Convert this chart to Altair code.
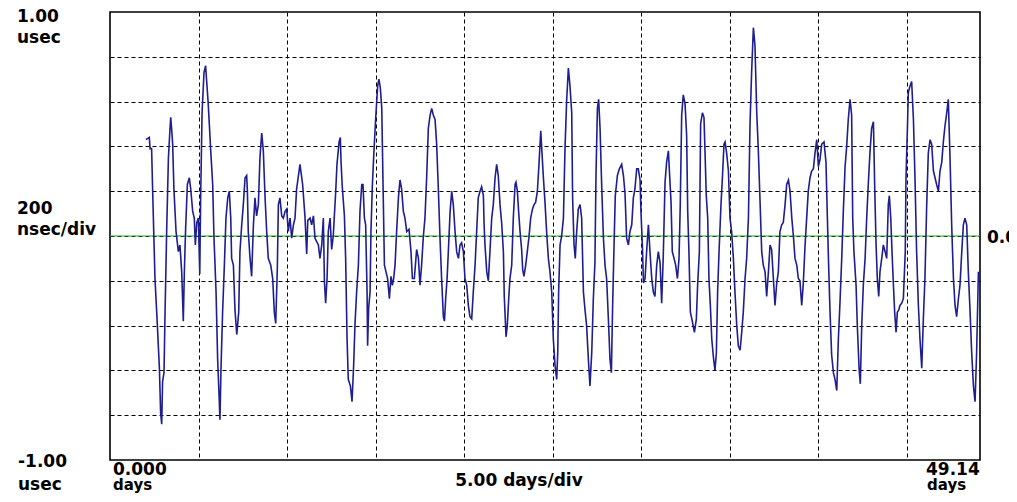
import altair as alt
import pandas as pd

# time (days) and phase offset (usec)
t1 = [2.03, 2.22, 2.26, 2.35, 2.41, 2.49, 2.54, 2.67, 2.79, 2.86, 2.92, 2.97, 3.05, 3.11, 3.20, 3.30, 3.39, 3.43,
      3.48, 3.54, 3.61, 3.73, 3.86, 3.95, 4.05, 4.14, 4.20, 4.27, 4.37, 4.48, 4.56, 4.67, 4.76, 4.82, 4.90, 4.99,
      5.07, 5.12, 5.20, 5.31, 5.40, 5.54, 5.61, 5.69, 5.80, 5.87, 5.99, 6.08, 6.16, 6.21, 6.27, 6.36, 6.46, 6.55,
      6.65, 6.74, 6.82, 6.87, 6.97, 7.06, 7.16, 7.27, 7.34, 7.44, 7.53, 7.63, 7.72, 7.76, 7.81, 7.91, 8.00, 8.10,
      8.19, 8.28, 8.38, 8.47, 8.57, 8.66, 8.76, 8.85, 8.94, 9.08, 9.19, 9.28, 9.36, 9.45, 9.51, 9.60, 9.70, 9.79,
      9.89, 9.98, 10.07, 10.17, 10.26, 10.36, 10.45, 10.54, 10.73, 10.88, 11.01]
v1 = [0.43, 0.44, 0.39, 0.39, 0.20, -0.04, -0.19, -0.39, -0.59, -0.79, -0.84, -0.65, -0.61, -0.34, 0.02, 0.35, 0.48, 0.53,
      0.48, 0.41, 0.21, 0.02, -0.07, -0.04, -0.16, -0.38, -0.16, 0.03, 0.23, 0.26, 0.21, 0.11, 0.08, -0.04, 0.06, 0.08,
      -0.17, 0.17, 0.55, 0.73, 0.76, 0.60, 0.50, 0.38, 0.23, 0.00, -0.25, -0.55, -0.71, -0.82, -0.59, -0.34, -0.13, 0.08,
      0.17, 0.20, 0.08, -0.10, -0.13, -0.33, -0.44, -0.34, -0.07, 0.05, 0.14, 0.26, 0.27, 0.20, 0.02, -0.10, -0.18, 0.05,
      0.17, 0.09, 0.14, 0.35, 0.46, 0.38, 0.17, 0.02, -0.10, -0.13, -0.19, -0.34, -0.39, -0.15, 0.14, 0.17, 0.09, 0.08,
      0.11, 0.12, 0.02, 0.08, -0.01, 0.05, 0.08, 0.21, 0.32, 0.23, 0.09]

t2 = [11.11, 11.17, 11.30, 11.39, 11.49, 11.58, 11.77, 11.86, 11.96, 12.05, 12.11, 12.18, 12.26, 12.33, 12.43, 12.52,
      12.61, 12.75, 12.82, 12.94, 13.01, 13.05, 13.12, 13.24, 13.31, 13.39, 13.46, 13.58, 13.67, 13.76, 13.84, 13.93,
      14.03, 14.12, 14.22, 14.29, 14.37, 14.44, 14.52, 14.55, 14.61, 14.69, 14.74, 14.82, 14.91, 15.01, 15.12, 15.19,
      15.27, 15.35, 15.42, 15.50, 15.59, 15.68, 15.78, 15.87, 15.95, 16.02, 16.10, 16.19, 16.29, 16.38, 16.47, 16.57,
      16.66, 16.76, 16.89, 17.00, 17.08, 17.19, 17.32, 17.42, 17.51, 17.60, 17.70, 17.79, 17.89, 17.98, 18.08, 18.17,
      18.26, 18.36, 18.45, 18.55, 18.64, 18.73, 18.83, 18.89, 18.96, 19.04, 19.11, 19.21, 19.30, 19.39, 19.49, 19.58,
      19.68, 19.77, 19.86, 19.96, 20.05, 20.15, 20.24, 20.33, 20.43]
v2 = [-0.08, 0.07, 0.08, 0.05, 0.09, -0.01, -0.04, -0.10, -0.04, 0.08, -0.20, -0.30, -0.19, 0.02, 0.08, -0.06,
      0.00, 0.20, 0.32, 0.42, 0.44, 0.33, 0.22, 0.09, -0.10, -0.46, -0.64, -0.67, -0.74, -0.58, -0.39, -0.25,
      -0.13, 0.11, 0.23, 0.23, 0.08, 0.05, -0.25, -0.49, -0.32, -0.25, 0.02, 0.23, 0.38, 0.53, 0.67, 0.70,
      0.66, 0.57, 0.24, -0.13, -0.16, -0.19, -0.28, -0.18, -0.22, -0.19, -0.13, 0.02, 0.17, 0.25, 0.21, 0.11,
      0.08, 0.02, 0.03, -0.07, -0.19, -0.19, -0.06, -0.10, -0.22, -0.13, 0.00, 0.08, 0.27, 0.48, 0.54, 0.57,
      0.54, 0.52, 0.41, 0.20, -0.01, -0.19, -0.36, -0.38, -0.28, -0.19, -0.07, 0.11, 0.20, 0.14, 0.02, -0.07,
      -0.10, -0.04, -0.03, -0.07, -0.19, -0.22, -0.31, -0.36, -0.37]

t3 = [20.52, 20.62, 20.71, 20.80, 20.90, 20.99, 21.09, 21.13, 21.18, 21.28, 21.37, 21.46, 21.56, 21.65, 21.75, 21.84,
      21.93, 22.03, 22.12, 22.22, 22.27, 22.37, 22.44, 22.52, 22.59, 22.69, 22.78, 22.88, 22.93, 23.01, 23.08, 23.16,
      23.25, 23.31, 23.38, 23.48, 23.57, 23.67, 23.76, 23.86, 23.95, 24.04, 24.14, 24.23, 24.33, 24.40, 24.48, 24.57,
      24.66, 24.76, 24.85, 24.95, 25.04, 25.14, 25.23, 25.29, 25.34, 25.42, 25.51, 25.61, 25.70, 25.79, 25.89, 25.98,
      26.08, 26.13, 26.21, 26.28, 26.36, 26.45, 26.55, 26.64, 26.74, 26.83, 26.92, 27.02, 27.11, 27.21, 27.30, 27.39,
      27.45, 27.53, 27.60, 27.68, 27.77, 27.87, 27.96, 28.05, 28.15, 28.24, 28.32, 28.39, 28.47, 28.54, 28.66, 28.77,
      28.90, 29.00, 29.09, 29.18, 29.28, 29.37, 29.47, 29.56, 29.65, 29.75]
v3 = [-0.25, -0.13, 0.02, 0.17, 0.20, 0.22, 0.18, 0.05, -0.04, -0.16, -0.20, -0.07, 0.08, 0.14, 0.26, 0.32,
      0.27, 0.14, 0.06, -0.07, -0.27, -0.45, -0.40, -0.28, -0.19, -0.13, 0.08, 0.23, 0.24, 0.20, 0.11, 0.02,
      -0.06, -0.15, -0.18, -0.13, -0.07, 0.00, 0.08, 0.12, 0.14, 0.15, 0.20, 0.32, 0.47, 0.37, 0.26, 0.15,
      0.02, -0.10, -0.16, -0.25, -0.46, -0.58, -0.64, -0.52, -0.25, -0.04, 0.00, 0.08, 0.39, 0.60, 0.75, 0.67,
      0.55, 0.17, -0.04, -0.10, 0.02, 0.12, 0.14, 0.08, -0.25, -0.33, -0.40, -0.55, -0.67, -0.52, -0.28, -0.12,
      0.27, 0.57, 0.61, 0.48, 0.23, -0.01, -0.13, -0.19, -0.37, -0.55, -0.61, -0.31, -0.04, 0.18, 0.27, 0.30,
      0.32, 0.27, 0.19, -0.01, -0.04, 0.02, 0.05, 0.17, 0.21, 0.30]

t4 = [29.84, 29.94, 29.99, 30.07, 30.13, 30.22, 30.31, 30.41, 30.50, 30.60, 30.69, 30.78, 30.88, 30.97, 31.07, 31.16,
      31.25, 31.35, 31.44, 31.54, 31.61, 31.69, 31.76, 31.86, 31.95, 32.05, 32.14, 32.21, 32.29, 32.38, 32.48, 32.57,
      32.63, 32.70, 32.78, 32.89, 33.01, 33.12, 33.19, 33.29, 33.36, 33.46, 33.55, 33.61, 33.68, 33.76, 33.83, 33.91,
      33.99, 34.08, 34.17, 34.25, 34.32, 34.40, 34.51, 34.59, 34.68, 34.74, 34.83, 34.93, 35.02, 35.11, 35.21, 35.30,
      35.40, 35.49, 35.59, 35.68, 35.77, 35.87, 35.96, 36.06, 36.15, 36.24, 36.34, 36.43, 36.53, 36.62, 36.71, 36.81,
      36.90, 37.00, 37.09, 37.19, 37.28, 37.37, 37.47, 37.56, 37.66, 37.75, 37.84, 37.94, 38.03, 38.13, 38.22, 38.32,
      38.41, 38.51, 38.60, 38.69, 38.79, 38.88, 38.97, 39.07]
v4 = [0.30, 0.25, 0.11, -0.04, -0.21, -0.19, -0.07, 0.05, -0.07, -0.19, -0.25, -0.27, -0.13, -0.07, -0.12, -0.30,
      -0.09, 0.24, 0.33, 0.38, 0.27, 0.15, -0.07, -0.10, -0.13, -0.19, -0.10, 0.14, 0.54, 0.63, 0.59, 0.45,
      0.11, -0.07, -0.34, -0.38, -0.43, -0.37, -0.22, -0.07, 0.50, 0.55, 0.53, 0.37, 0.18, 0.08, -0.19, -0.31,
      -0.46, -0.54, -0.60, -0.52, -0.25, -0.07, 0.14, 0.26, 0.41, 0.42, 0.37, 0.29, 0.08, 0.02, -0.10, -0.25,
      -0.40, -0.49, -0.51, -0.43, -0.34, -0.19, -0.10, 0.08, 0.50, 0.73, 0.93, 0.85, 0.55, 0.38, 0.17, -0.07,
      -0.13, -0.16, -0.27, -0.16, -0.04, -0.06, -0.19, -0.31, -0.21, -0.16, 0.02, 0.05, 0.06, 0.14, 0.23, 0.25,
      0.20, 0.08, 0.00, -0.10, -0.13, -0.19, -0.20, -0.31]

t5 = [39.16, 39.26, 39.35, 39.44, 39.54, 39.63, 39.73, 39.82, 39.92, 40.01, 40.10, 40.20, 40.33, 40.44, 40.52, 40.59,
      40.67, 40.76, 40.86, 40.95, 41.05, 41.14, 41.23, 41.33, 41.42, 41.52, 41.61, 41.70, 41.80, 41.89, 41.95, 42.02,
      42.14, 42.21, 42.31, 42.38, 42.46, 42.55, 42.65, 42.74, 42.83, 42.93, 43.02, 43.12, 43.19, 43.27, 43.34, 43.42,
      43.49, 43.59, 43.68, 43.78, 43.87, 43.96, 44.02, 44.10, 44.17, 44.25, 44.32, 44.40, 44.47, 44.55, 44.62, 44.72,
      44.81, 44.92, 44.96, 45.04, 45.09, 45.19, 45.28, 45.38, 45.47, 45.56, 45.66, 45.75, 45.85, 45.94, 46.03, 46.13,
      46.22, 46.32, 46.41, 46.51, 46.60, 46.69, 46.79, 46.88, 46.98, 47.07, 47.16, 47.26, 47.35, 47.45, 47.54, 47.64,
      47.73, 47.82, 47.92, 48.01, 48.11, 48.20, 48.29, 48.39, 48.48, 48.58, 48.67, 48.77, 48.86, 48.95, 49.05]
v5 = [-0.21, -0.04, 0.08, 0.20, 0.26, 0.29, 0.30, 0.37, 0.43, 0.31, 0.34, 0.41, 0.42, 0.33, 0.08, -0.13,
      -0.34, -0.53, -0.61, -0.64, -0.69, -0.46, -0.30, -0.10, 0.11, 0.31, 0.40, 0.52, 0.61, 0.54, 0.08, -0.07,
      -0.22, -0.40, -0.59, -0.66, -0.40, -0.22, -0.10, 0.08, 0.23, 0.38, 0.48, 0.51, 0.23, -0.04, -0.19, -0.27,
      -0.16, -0.10, -0.04, -0.07, -0.10, 0.14, 0.18, 0.08, -0.07, -0.22, -0.34, -0.43, -0.34, -0.33, -0.31, -0.30,
      -0.28, -0.07, 0.26, 0.48, 0.64, 0.67, 0.69, 0.52, 0.25, -0.07, -0.31, -0.46, -0.59, -0.37, -0.19, 0.14,
      0.37, 0.43, 0.41, 0.29, 0.26, 0.23, 0.20, 0.29, 0.33, 0.42, 0.49, 0.55, 0.61, 0.34, 0.05, -0.19,
      -0.31, -0.36, -0.28, -0.22, -0.07, 0.05, 0.08, 0.05, -0.16, -0.34, -0.52, -0.67, -0.74, -0.52, -0.16]

x_grid = [5, 10, 15, 20, 25, 30, 35, 40, 45]
y_grid = [-0.8, -0.6, -0.4, -0.2, 0.0, 0.2, 0.4, 0.6, 0.8]

label_text = ["1.00", "usec", "200", "nsec/div", "-1.00", "usec", "0.0",
              "0.000", "days", "5.00 days/div", "49.14", "days"]
label_px = [-93, -93, -93, -93, -92, -92, 877, 3, 3, 409, 816, 817]
label_py = [10, 31, 202, 223, 455, 478, 231, 463, 478, 474, 463, 478]
label_size = [17, 17, 17, 17, 17, 17, 17, 17, 15, 17, 17, 15]
label_align = ["left"] * 7 + ["left", "left", "center", "left", "left"]

W, H = 870, 448

trace = pd.DataFrame({"t": t1 + t2 + t3 + t4 + t5, "v": v1 + v2 + v3 + v4 + v5})
labels = pd.DataFrame({"text": label_text, "px": label_px, "py": label_py,
                       "size": label_size, "align": label_align})

xs = alt.Scale(domain=[0, 49.14], nice=False, zero=False)
ys = alt.Scale(domain=[-1.0, 1.0], nice=False, zero=False)
grid_kw = dict(grid=True, labels=False, ticks=False, domain=False, title=None,
               gridDash=[4, 3], gridColor="#000000", gridWidth=1, gridOpacity=1)

line = alt.Chart(trace).mark_line(color="#1e1e90", strokeWidth=1.6, clip=True).encode(
    x=alt.X("t:Q", scale=xs, axis=alt.Axis(values=x_grid, **grid_kw)),
    y=alt.Y("v:Q", scale=ys, axis=alt.Axis(values=y_grid, **grid_kw)),
)

zero = alt.Chart(pd.DataFrame({"z": [0.0]})).mark_rule(color="#22aa22", strokeWidth=1).encode(
    y=alt.Y("z:Q", scale=ys, axis=None)
)

def text_layer(align):
    d = labels[labels["align"] == align]
    return alt.Chart(d).mark_text(
        align=align, baseline="alphabetic", font="DejaVu Sans", fontWeight="bold",
        color="#000000"
    ).encode(
        x=alt.X("px:Q", scale=None, axis=None),
        y=alt.Y("py:Q", scale=None, axis=None),
        size=alt.Size("size:Q", scale=None, legend=None),
        text="text:N",
    )

chart = alt.layer(zero, line, text_layer("left"), text_layer("center")).resolve_scale(
    x="independent", y="independent"
).properties(
    width=W, height=H,
    autosize=alt.AutoSizeParams(type="none"),
    padding={"left": 102, "top": 4, "right": 29, "bottom": 34},
    background="#ffffff",
).configure_view(stroke="#000000", strokeWidth=1.6)

chart.save("out.html", embed_options={"renderer": "svg", "actions": False})
